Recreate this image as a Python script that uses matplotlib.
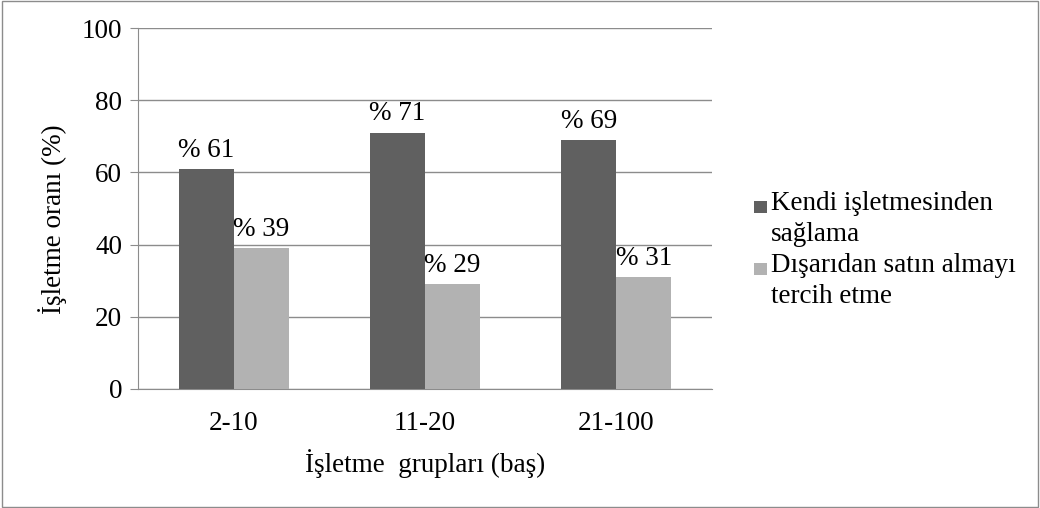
import numpy as np
import matplotlib.pyplot as plt
from matplotlib.patches import Rectangle
from matplotlib.legend_handler import HandlerPatch

plt.rcParams['font.family'] = ['Liberation Serif', 'DejaVu Serif']

# Veriler
gruplar = ['2-10', '11-20', '21-100']
kendi = [61, 71, 69]
disaridan = [39, 29, 31]
seri_adlari = ['Kendi işletmesinden\nsağlama', 'Dışarıdan satın almayı\ntercih etme']
yticks = [0, 20, 40, 60, 80, 100]

koyu = '#606060'
acik = '#b2b2b2'
fs = 19.5


def ust_kare(legend, orig_handle, xdescent, ydescent, width, height, fontsize):
    # lejant karesini ilk satır hizasına koy
    s = 0.45 * fontsize
    return Rectangle((-xdescent, -ydescent + height - s - 0.12 * fontsize), s, s)


fig = plt.figure(figsize=(10.4, 5.08), dpi=100)
fig.patches.append(Rectangle((0.0015, 0.002), 0.997, 0.996, transform=fig.transFigure,
                             fill=False, edgecolor='#8c8c8c', linewidth=1))
ax = fig.add_axes([138 / 1040, 1 - 389 / 508, (712 - 138) / 1040, (389 - 28) / 508])

x = np.arange(len(gruplar))
w = 0.288
b1 = ax.bar(x - w / 2, kendi, w, color=koyu, zorder=3)
b2 = ax.bar(x + w / 2, disaridan, w, color=acik, zorder=3)

# değer etiketleri
for bars, vals in ((b1, kendi), (b2, disaridan)):
    for r, v in zip(bars, vals):
        ax.annotate(f'% {v}', (r.get_x() + r.get_width() / 2, v), xytext=(0, 4.5),
                    textcoords='offset points', ha='center', va='bottom', fontsize=fs)

ax.set_xlim(-0.5, 2.5)
ax.set_ylim(0, 100)
ax.set_yticks(yticks)
ax.set_xticks(x)
ax.set_xticklabels(gruplar, fontsize=fs)
ax.tick_params(axis='y', labelsize=fs, length=5.5, color='#8c8c8c', pad=6)
ax.tick_params(axis='x', length=0, pad=16)
ax.grid(axis='y', color='#8c8c8c', linewidth=1, zorder=0)
for s in ['top', 'right']:
    ax.spines[s].set_visible(False)
ax.spines['left'].set_color('#8c8c8c')
ax.spines['bottom'].set_color('#8c8c8c')

ax.set_ylabel('İşletme oranı (%)', fontsize=fs)
ax.yaxis.set_label_coords(-0.124, 0.471)
ax.set_xlabel('İşletme  grupları (baş)', fontsize=fs, labelpad=9)

h1, h2 = b1.patches[0], b2.patches[0]
leg = ax.legend([h1, h2], seri_adlari, loc='center left', bbox_to_anchor=(1.055, 0.385),
                frameon=False, fontsize=fs, handlelength=0.45, handleheight=2.2,
                handletextpad=0.15, labelspacing=0.2, borderaxespad=0,
                handler_map={h1: HandlerPatch(patch_func=ust_kare),
                             h2: HandlerPatch(patch_func=ust_kare)})
for t in leg.get_texts():
    t.set_linespacing(1.35)

fig.savefig('out.png', dpi=100)
